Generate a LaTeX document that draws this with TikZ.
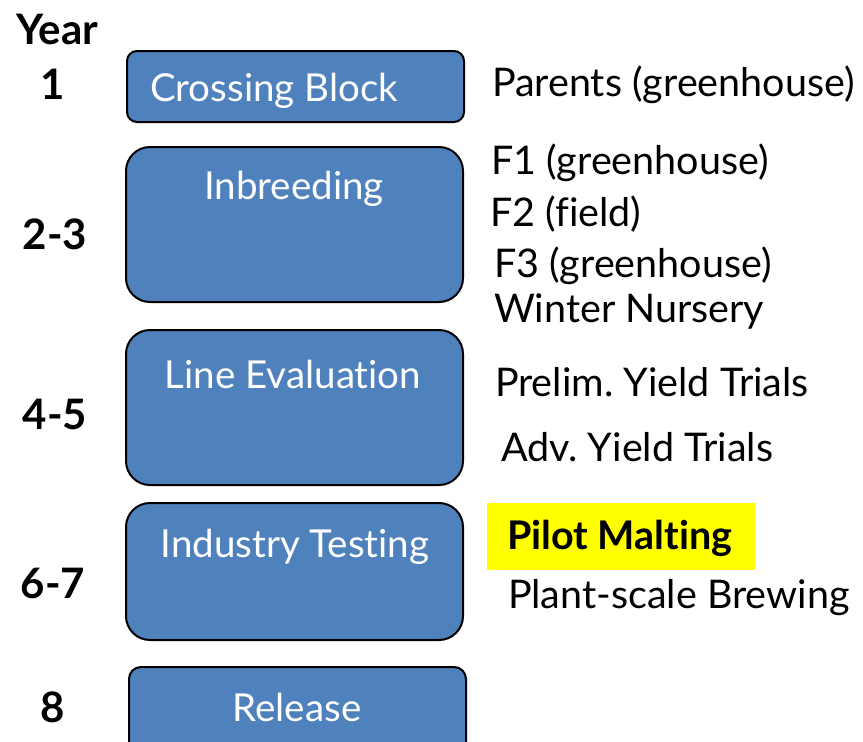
\documentclass[tikz,border=0pt]{standalone}
\usepackage{fontspec}
\setmainfont[Ligatures=NoCommon]{Lato}
\frenchspacing
\definecolor{stageblue}{HTML}{4F81BD}
\definecolor{hilite}{HTML}{FFFF00}
\begin{document}
\begin{tikzpicture}[x=1pt,y=-1pt,
  every node/.style={inner sep=0pt, outer sep=0pt},
  stagebox/.style={draw=black, line width=2pt, fill=stageblue, rounded corners=#1},
  stagebox/.default=24pt,
  stagetext/.style={text=white, font=\fontsize{38.5}{42}\selectfont},
  yeartext/.style={text=black, font=\fontsize{42}{46}\selectfont\bfseries},
  notetext/.style={text=black, anchor=west, font=\fontsize{39.5}{44}\selectfont}]
\clip (0,0) rectangle (863,742);
\useasboundingbox (0,0) rectangle (863,742);

% year column
\node[yeartext] (year) at (57,29) {Year};
\node[yeartext] (y1) at (53,84) {1};
\node[yeartext] (y23) at (55,234) {2-3};
\node[yeartext] (y45) at (55,414) {4-5};
\node[yeartext] (y67) at (53,583) {6-7};
\node[yeartext] (y8) at (53,707) {8};

% stage boxes
\draw[stagebox=10pt] (127,51) rectangle (464,122);
\node (cb) at (295.5,86.5) {};
\draw[stagebox] (126,147) rectangle (463,302);
\node (ib) at (294.5,224.5) {};
\draw[stagebox] (126,330) rectangle (463,485);
\node (le) at (294.5,407.5) {};
\draw[stagebox] (126,503) rectangle (463,640);
\node (it) at (294.5,571.5) {};
\draw[stagebox=12pt] (129,667) rectangle (466,760);
\node (rl) at (297.5,713) {};

% stage labels
\node[stagetext] (cbt) at (274,91) {Crossing Block};
\node[stagetext] (ibt) at (294,189) {Inbreeding};
\node[stagetext] (let) at (293,374) {Line Evaluation};
\node[stagetext] (itt) at (295,547) {Industry Testing};
\node[stagetext] (rlt) at (297,707) {Release};

% activities per stage
\node[notetext] (n1) at (492,85) {Parents (greenhouse)};
\node[notetext] (n2) at (491,163) {F1 (greenhouse)};
\node[notetext] (n3) at (490,214) {F2 (field)};
\node[notetext] (n4) at (494,266) {F3 (greenhouse)};
\node[notetext] (n5) at (494,311) {Winter Nursery};
\node[notetext] (n6) at (495,382) {Prelim. Yield Trials};
\node[notetext] (n7) at (501,447) {Adv. Yield Trials};
\fill[hilite] (487,503) rectangle (755,570);
\node[notetext, font=\fontsize{39.5}{44}\selectfont\bfseries] (n8) at (507,538) {Pilot Malting};
\node[notetext] (n9) at (508,598) {Plant-scale Brewing};
\end{tikzpicture}
\end{document}
